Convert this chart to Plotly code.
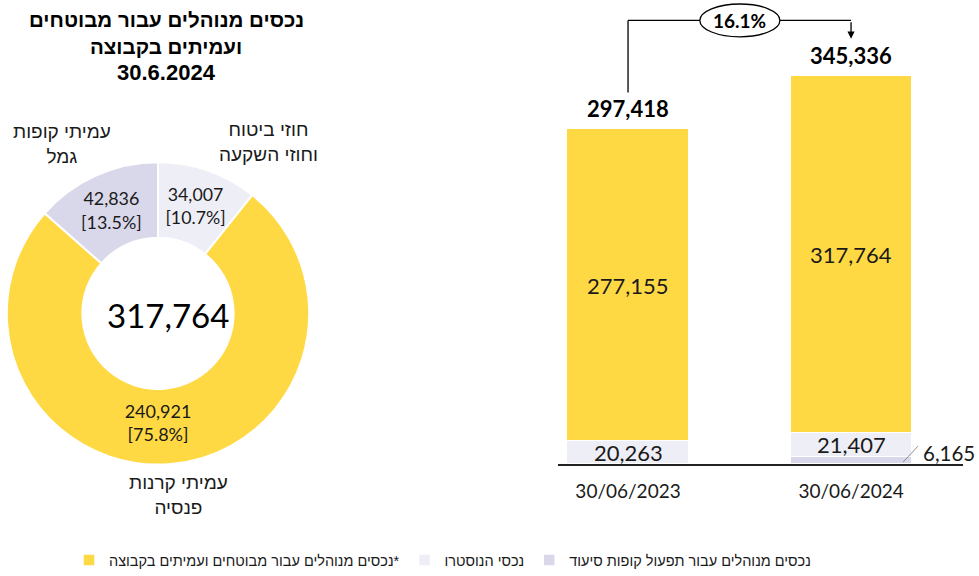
import plotly.graph_objects as go

# ---------------- data ----------------
pie_labels = ["חוזי ביטוח<br>וחוזי השקעה", "עמיתי קרנות<br>פנסיה", "עמיתי קופות<br>גמל"]
pie_values = [34007, 240921, 42836]
pie_colors = ["#EEEEF6", "#FFD944", "#D9D8EA"]

bar_dates = ["30/06/2023", "30/06/2024"]
series_names = [
    "נכסים מנוהלים עבור תפעול קופות סיעוד",
    "נכסי הנוסטרו",
    "נכסים מנוהלים עבור מבוטחים ועמיתים בקבוצה*",
]
series_values = [
    [0, 6165],
    [20263, 21407],
    [277155, 317764],
]
series_colors = ["#D9D8EA", "#EEEEF6", "#FFD944"]

title_lines = ["נכסים מנוהלים עבור מבוטחים", "ועמיתים בקבוצה", "30.6.2024"]

FONT = "Lato, Liberation Sans, DejaVu Sans, sans-serif"
HEB = "Liberation Sans, DejaVu Sans, sans-serif"
TXT = "#1a1a1a"

W, H = 979, 576
Y_DOM0 = 110 / H
YMAX = 412550
PX = YMAX / (H - 110)  # data units per pixel

totals = [sum(s[i] for s in series_values) for i in range(len(bar_dates))]

fig = go.Figure()

# ---------------- bars ----------------
for name, vals, col in zip(series_names, series_values, series_colors):
    fig.add_trace(go.Bar(
        x=[0, 1], y=vals, name=name, width=0.543,
        marker=dict(color=col, line=dict(color="white", width=1.5)),
        xaxis="x", yaxis="y", hoverinfo="skip",
    ))

# value labels inside segments
for si, vals in enumerate(series_values):
    for i, v in enumerate(vals):
        base = sum(series_values[k][i] for k in range(si))
        if v <= 0:
            continue
        if v < 10000:
            fig.add_shape(type="line", xref="x", yref="y",
                          xsizemode="pixel", ysizemode="pixel",
                          xanchor=i, yanchor=base + v / 2,
                          x0=52, x1=67, y0=-2, y1=14,
                          line=dict(color="#8c8c8c", width=1))
            fig.add_annotation(x=i, y=base + v / 2, xref="x", yref="y",
                               text=f"{v:,}", showarrow=False,
                               xanchor="left", yanchor="middle",
                               xshift=70, yshift=7,
                               font=dict(family=FONT, size=20.5, color=TXT))
        else:
            fig.add_annotation(x=i, y=base + v / 2, xref="x", yref="y",
                               text=f"{v:,}", showarrow=False,
                               xanchor="center", yanchor="middle",
                               font=dict(family=FONT, size=22, color=TXT))

# totals
for i, t in enumerate(totals):
    fig.add_annotation(x=i, y=t, xref="x", yref="y", text=f"<b>{t:,}</b>",
                       showarrow=False, xanchor="center", yanchor="bottom", yshift=5,
                       font=dict(family=FONT, size=22, color="black"))

# growth connector
pct = (totals[1] / totals[0] - 1) * 100
y_top = YMAX - 20.5 * PX
fig.add_shape(type="line", xref="x", yref="y", x0=0, x1=0,
              y0=totals[0] + 37 * PX, y1=y_top, line=dict(color="black", width=1.3))
fig.add_shape(type="line", xref="x", yref="y", x0=0, x1=1,
              y0=y_top, y1=y_top, line=dict(color="black", width=1.3))
fig.add_annotation(x=1, y=totals[1] + 37 * PX, xref="x", yref="y", text="",
                   showarrow=True, ax=0, ay=-18, arrowhead=2, arrowsize=1.1,
                   arrowwidth=1.3, arrowcolor="black", standoff=0)
fig.add_shape(type="circle", xref="x", yref="y", x0=0.322, x1=0.681,
              y0=y_top - 16.5 * PX, y1=y_top + 16.5 * PX,
              fillcolor="white", line=dict(color="black", width=1.3))
fig.add_annotation(x=0.502, y=y_top, xref="x", yref="y", text=f"<b>{pct:.1f}%</b>",
                   showarrow=False, xanchor="center", yanchor="middle",
                   font=dict(family=FONT, size=19, color="black"))

# ---------------- donut ----------------
fig.add_trace(go.Pie(
    labels=pie_labels, values=pie_values, sort=False, direction="clockwise",
    rotation=0, hole=0.5,
    marker=dict(colors=pie_colors, line=dict(color="white", width=2)),
    texttemplate="%{value:,}<br>[%{percent:.1%}]", textposition="inside",
    insidetextorientation="horizontal",
    textfont=dict(family=FONT, size=18, color=TXT),
    domain=dict(x=[6 / W, 310 / W], y=[(H - 467) / H, (H - 163) / H]),
    showlegend=False, hoverinfo="skip",
))
fig.add_annotation(x=168 / W, y=(H - 317) / H, xref="paper", yref="paper",
                   text=f"{sum(pie_values):,}", showarrow=False,
                   xanchor="center", yanchor="middle",
                   font=dict(family=FONT, size=33, color="black"))

# outside pie category labels
label_pos = [(268, 143), (178, 498), (62, 145)]
for lab, (px, py) in zip(pie_labels, label_pos):
    fig.add_annotation(x=px / W, y=(H - py) / H, xref="paper", yref="paper",
                       text=lab, showarrow=False, xanchor="center", yanchor="middle",
                       font=dict(family=HEB, size=19, color=TXT))

# title
for line, py, sz in zip(title_lines, [20, 46.5, 73], [20.5, 20.5, 22]):
    fig.add_annotation(x=166 / W, y=(H - py) / H, xref="paper", yref="paper",
                       text=f"<b>{line}</b>", showarrow=False,
                       xanchor="center", yanchor="middle",
                       font=dict(family=HEB, size=sz, color="black"))

fig.update_layout(
    width=W, height=H, margin=dict(l=0, r=0, t=0, b=0),
    plot_bgcolor="white", paper_bgcolor="white",
    barmode="stack", bargap=0,
    xaxis=dict(domain=[558 / W, 963 / W], range=[-0.314, 1.502],
               tickmode="array", tickvals=[0, 1], ticktext=bar_dates,
               showline=True, linecolor="#222", linewidth=1.5,
               showgrid=False, zeroline=False, ticks="",
               ticklabelstandoff=10,
               tickfont=dict(family=FONT, size=19, color=TXT)),
    yaxis=dict(domain=[Y_DOM0, 1], range=[0, YMAX], visible=False),
    legend=dict(orientation="h", x=0.452, xanchor="center", y=13 / H,
                yanchor="middle", traceorder="reversed",
                font=dict(family=HEB, size=14.5, color=TXT),
                itemwidth=30),
)

fig.write_html("out.html", config={"displayModeBar": False},
               post_script="document.body.style.margin='0';document.body.style.padding='0';document.body.style.overflow='hidden';")
